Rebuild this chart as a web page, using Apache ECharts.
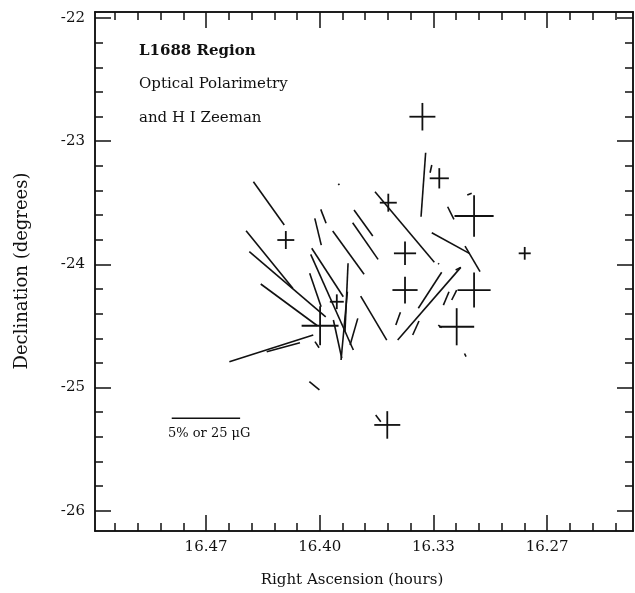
<!DOCTYPE html>
<html>
<head>
<meta charset="utf-8">
<title>L1688 Region</title>
<script src="https://cdn.jsdelivr.net/npm/echarts@6/dist/echarts.min.js"></script>
<style>
html, body { margin: 0; padding: 0; background: #fff; }
#main { width: 635px; height: 593px; }
</style>
</head>
<body>
<div id="main"></div>
<script>
// axis extents (RA in hours, Dec in degrees)
var raMin = 16.2163, raMax = 16.5318;
var decMin = -26.164, decMax = -21.951;
var raTicks = [16.46667, 16.40000, 16.33333, 16.26667];
var raTickLabels = ['16.47', '16.40', '16.33', '16.27'];
var decTicks = [-22, -23, -24, -25, -26];

// optical polarization vectors: [ra1, dec1, ra2, dec2]
var polVectors = [
	[16.4389, -23.329, 16.4208, -23.680],
	[16.3891, -23.345, 16.3885, -23.356],
	[16.3994, -23.553, 16.3963, -23.666],
	[16.4029, -23.626, 16.3991, -23.843],
	[16.3799, -23.558, 16.3689, -23.769],
	[16.3807, -23.662, 16.3658, -23.959],
	[16.3924, -23.729, 16.3740, -24.080],
	[16.3676, -23.410, 16.3328, -23.983],
	[16.3305, -23.991, 16.3301, -23.999],
	[16.4432, -23.726, 16.4158, -24.194],
	[16.4413, -23.897, 16.3965, -24.425],
	[16.4346, -24.159, 16.4014, -24.498],
	[16.4059, -24.072, 16.3992, -24.343],
	[16.4047, -23.869, 16.3862, -24.262],
	[16.4053, -23.918, 16.3803, -24.695],
	[16.3834, -23.991, 16.3852, -24.546],
	[16.3838, -24.222, 16.3875, -24.776],
	[16.3920, -24.451, 16.3871, -24.762],
	[16.3777, -24.438, 16.3822, -24.654],
	[16.3760, -24.257, 16.3607, -24.614],
	[16.4530, -24.790, 16.4038, -24.573],
	[16.4311, -24.709, 16.4116, -24.636],
	[16.4028, -24.627, 16.4004, -24.676],
	[16.4061, -24.952, 16.4002, -25.019],
	[16.3672, -25.222, 16.3642, -25.277],
	[16.3379, -23.093, 16.3406, -23.613],
	[16.3343, -23.193, 16.3353, -23.256],
	[16.3135, -23.437, 16.3109, -23.423],
	[16.3250, -23.532, 16.3213, -23.634],
	[16.3343, -23.743, 16.3123, -23.910],
	[16.3148, -23.851, 16.3060, -24.059],
	[16.3173, -24.024, 16.3543, -24.614],
	[16.3285, -24.064, 16.3422, -24.356],
	[16.3203, -24.045, 16.3173, -24.024],
	[16.3527, -24.389, 16.3554, -24.492],
	[16.3418, -24.459, 16.3455, -24.573],
	[16.3242, -24.222, 16.3275, -24.330],
	[16.3197, -24.208, 16.3226, -24.289],
	[16.3305, -24.492, 16.3285, -24.514],
	[16.3151, -24.723, 16.3142, -24.748]
];

// H I Zeeman points, field in microgauss
var zeemanRa  = [16.4199, 16.3900, 16.3998, 16.3598, 16.3398, 16.3299, 16.3095, 16.2798, 16.3500, 16.3500, 16.3095, 16.3197, 16.3604];
var zeemanDec = [-23.802, -24.303, -24.498, -23.499, -22.801, -23.301, -23.607, -23.910, -23.910, -24.208, -24.208, -24.506, -25.303];
var zeemanB   = [6.2, 5.1, 13.5, 6.2, 9.5, 7.0, 14.3, 4.4, 8.1, 9.2, 12.1, 12.8, 9.5];

// scale bar: 5% or 25 uG
var scaleBar = [16.4868, -25.249, 16.4467, -25.249];
var scaleBarUG = 25;

var ugToRa = Math.abs(scaleBar[0] - scaleBar[2]) / scaleBarUG;
var FONT = 'DejaVu Serif';
var INK = '#111';

// minor ticks: 5 per major interval
var raMinor = [];
for (var k = Math.ceil(raMin * 75); k <= Math.floor(raMax * 75); k++) {
	if (k % 5 !== 0) raMinor.push(k / 75);
}
var decMinor = [];
for (var j = Math.ceil(decMin * 5); j <= Math.floor(decMax * 5); j++) {
	if (j % 5 !== 0) decMinor.push(j / 5);
}

function xAxisOf(pos, ticks, len, labels) {
	return {
		type: 'value', position: pos, min: raMin, max: raMax, inverse: true,
		splitLine: { show: false },
		axisLine: { show: true, onZero: false, lineStyle: { color: INK, width: 1.5 } },
		axisTick: { show: true, inside: true, length: len, customValues: ticks, lineStyle: { color: INK, width: 1.5 } },
		axisLabel: labels ? {
			show: true, customValues: raTicks, margin: 9, color: INK, fontFamily: FONT, fontSize: 15,
			formatter: function (v) {
				for (var i = 0; i < raTicks.length; i++) {
					if (Math.abs(raTicks[i] - v) < 1e-4) return raTickLabels[i];
				}
				return '';
			}
		} : { show: false }
	};
}

function yAxisOf(pos, ticks, len, labels) {
	return {
		type: 'value', position: pos, min: decMin, max: decMax,
		splitLine: { show: false },
		axisLine: { show: true, onZero: false, lineStyle: { color: INK, width: 1.5 } },
		axisTick: { show: true, inside: true, length: len, customValues: ticks, lineStyle: { color: INK, width: 1.5 } },
		axisLabel: labels ? {
			show: true, customValues: decTicks, margin: 10, color: INK, fontFamily: FONT, fontSize: 15
		} : { show: false }
	};
}

function segItem(params, api) {
	var a = api.coord([api.value(0), api.value(1)]);
	var b = api.coord([api.value(2), api.value(3)]);
	return {
		type: 'line',
		shape: { x1: a[0], y1: a[1], x2: b[0], y2: b[1] },
		style: { stroke: INK, lineWidth: 1.6 }
	};
}

function crossItem(params, api) {
	var c = api.coord([api.value(0), api.value(1)]);
	var h = Math.abs(api.size([api.value(2) * ugToRa, 0])[0]) / 2;
	var v = h * 1.06;
	return {
		type: 'group',
		children: [
			{ type: 'line', shape: { x1: c[0] - h, y1: c[1], x2: c[0] + h, y2: c[1] }, style: { stroke: INK, lineWidth: 1.8 } },
			{ type: 'line', shape: { x1: c[0], y1: c[1] - v, x2: c[0], y2: c[1] + v }, style: { stroke: INK, lineWidth: 1.8 } }
		]
	};
}

var zeemanData = zeemanRa.map(function (r, i) { return [r, zeemanDec[i], zeemanB[i]]; });

var chart = echarts.init(document.getElementById('main'));
chart.setOption({
	backgroundColor: '#fff',
	animation: false,
	grid: { left: 95, right: 2, top: 12, bottom: 62 },
	xAxis: [
		xAxisOf('bottom', raTicks, 16, true),
		xAxisOf('bottom', raMinor, 8, false),
		xAxisOf('top', raTicks, 16, false),
		xAxisOf('top', raMinor, 8, false)
	],
	yAxis: [
		yAxisOf('left', decTicks, 16, true),
		yAxisOf('left', decMinor, 8, false),
		yAxisOf('right', decTicks, 16, false),
		yAxisOf('right', decMinor, 8, false)
	],
	graphic: [
		{ type: 'text', left: 139, top: 44, style: { text: 'L1688 Region', fontFamily: FONT, fontSize: 15, fontWeight: 'bold', fill: INK } },
		{ type: 'text', left: 139, top: 77, style: { text: 'Optical Polarimetry', fontFamily: FONT, fontSize: 15, fill: INK } },
		{ type: 'text', left: 139, top: 111, style: { text: 'and H I Zeeman', fontFamily: FONT, fontSize: 15, fill: INK } },
		{ type: 'text', left: 168, top: 427, style: { text: '5% or 25 \u03bcG', fontFamily: FONT, fontSize: 13, fill: INK } },
		{ type: 'text', x: 352, y: 580, style: { text: 'Right Ascension (hours)', fontFamily: FONT, fontSize: 15, fill: INK, align: 'center', verticalAlign: 'middle' } },
		{ type: 'text', x: 22, y: 271, rotation: Math.PI / 2, style: { text: 'Declination (degrees)', fontFamily: FONT, fontSize: 18, fill: INK, align: 'center', verticalAlign: 'middle' } }
	],
	series: [
		{ type: 'custom', name: 'polarization', renderItem: segItem, data: polVectors, clip: true },
		{ type: 'custom', name: 'scale', renderItem: segItem, data: [scaleBar] },
		{ type: 'custom', name: 'zeeman', renderItem: crossItem, data: zeemanData, clip: true }
	]
});
</script>
</body>
</html>
